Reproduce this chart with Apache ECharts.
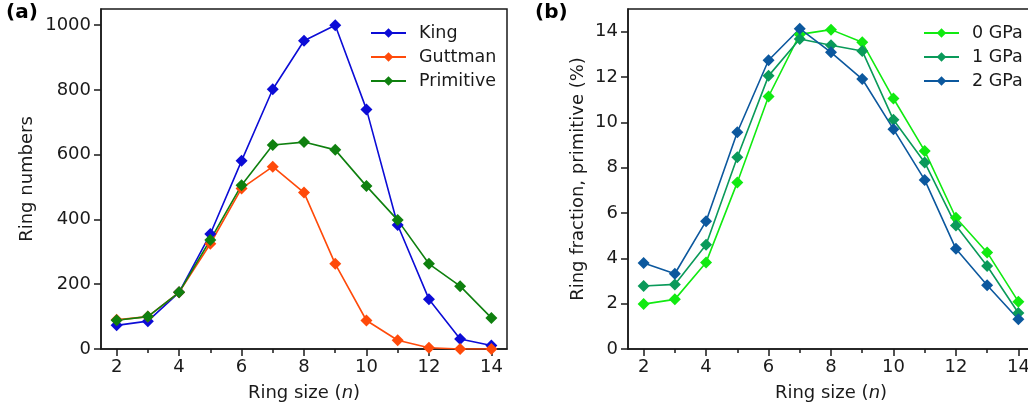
<!DOCTYPE html>
<html>
<head>
<meta charset="utf-8">
<script src="https://cdn.jsdelivr.net/npm/echarts@6/dist/echarts.min.js"></script>
<style>
  html, body { margin: 0; padding: 0; background: #fff; }
  #main { width: 1028px; height: 405px; }
</style>
</head>
<body>
<div id="main"></div>
<script>
// data
var ringSize = [2, 3, 4, 5, 6, 7, 8, 9, 10, 11, 12, 13, 14];

// (a) ring numbers
var king      = [73, 86, 175, 355, 581, 802, 952, 1000, 740, 383, 154, 31, 11];
var guttman   = [90, 100, 175, 325, 496, 563, 483, 263, 88, 27, 4, 0, 0];
var primitive = [89, 100, 175, 337, 506, 630, 639, 615, 503, 398, 263, 194, 96];

// (b) ring fraction, primitive (%)
var gpa0 = [1.98, 2.19, 3.82, 7.35, 11.14, 13.88, 14.09, 13.53, 11.05, 8.74, 5.79, 4.26, 2.09];
var gpa1 = [2.78, 2.85, 4.60, 8.46, 12.05, 13.68, 13.40, 13.15, 10.11, 8.23, 5.45, 3.66, 1.59];
var gpa2 = [3.79, 3.32, 5.64, 9.56, 12.74, 14.13, 13.09, 11.91, 9.70, 7.46, 4.42, 2.81, 1.31];

var xMajor = [2, 4, 6, 8, 10, 12, 14];
var xMinor = [3, 5, 7, 9, 11, 13];
var yTicksA = [0, 200, 400, 600, 800, 1000];
var yTicksB = [0, 2, 4, 6, 8, 10, 12, 14];

var FONT = 'DejaVu Sans';
var FS = 18;
var INK = '#1a1a1a';
var MINOR_LEN = 4;

function pairs(ys) {
    return ringSize.map(function (x, i) { return [x, ys[i]]; });
}

function line(name, ys, color, xi, yi) {
    return {
        name: name,
        type: 'line',
        xAxisIndex: xi,
        yAxisIndex: yi,
        data: pairs(ys),
        symbol: 'diamond',
        symbolSize: 12,
        lineStyle: { color: color, width: 1.6 },
        itemStyle: { color: color },
        animation: false
    };
}

// major x axis (labels, long ticks)
function xMain(gi) {
    return {
        type: 'value', gridIndex: gi, min: 1.5, max: 14.5, position: 'bottom',
        name: '{n|Ring size (}{i|n}{n|)}',
        nameLocation: 'middle', nameGap: 35,
        nameTextStyle: {
            rich: {
                n: { fontFamily: FONT, fontSize: FS, color: INK },
                i: { fontFamily: FONT, fontSize: FS, color: INK, fontStyle: 'italic' }
            }
        },
        axisLine: { lineStyle: { color: INK, width: 1.5 } },
        axisTick: { customValues: xMajor, length: 7, lineStyle: { color: INK, width: 1.5 } },
        axisLabel: { customValues: xMajor, margin: 9, fontFamily: FONT, fontSize: FS, color: INK },
        splitLine: { show: false }
    };
}

// minor x ticks at odd ring sizes: top axis of a thin overlay grid that sits
// just under the plot, its ticks reach up to the bottom frame line
function xMinorAxis(gi) {
    return {
        type: 'value', gridIndex: gi, min: 1.5, max: 14.5, position: 'top',
        axisLine: { show: false, onZero: false },
        axisTick: { customValues: xMinor, length: MINOR_LEN, lineStyle: { color: INK, width: 1.5 } },
        axisLabel: { show: false },
        splitLine: { show: false }
    };
}

function yAxis(gi, max, ticks, name, gap) {
    return {
        type: 'value', gridIndex: gi, min: 0, max: max,
        name: name, nameLocation: 'middle', nameGap: gap,
        nameTextStyle: { fontFamily: FONT, fontSize: FS, color: INK },
        axisLine: { show: true, lineStyle: { color: INK, width: 1.5 } },
        axisTick: { show: true, customValues: ticks, length: 7, lineStyle: { color: INK, width: 1.5 } },
        axisLabel: {
            customValues: ticks, margin: 10, fontFamily: FONT, fontSize: FS, color: INK,
            formatter: function (v) { return String(v); }
        },
        splitLine: { show: false }
    };
}

function legend(left, names) {
    return {
        data: names,
        orient: 'vertical',
        left: left, top: 24, padding: 0,
        itemWidth: 35, itemHeight: 12, itemGap: 6,
        textStyle: { fontFamily: FONT, fontSize: 17.5, color: INK, padding: [0, 0, 0, 8] }
    };
}

var frame = { show: true, borderColor: INK, borderWidth: 1.5, outerBoundsMode: 'none' };
var tickTop = 405 - 56 + MINOR_LEN;

var chart = echarts.init(document.getElementById('main'));

var option = {
    backgroundColor: '#fff',
    animation: false,
    title: [
        { text: '(a)', left: 6, top: 3, padding: 0, textStyle: { fontFamily: FONT, fontSize: 20, fontWeight: 'bold', color: '#000' } },
        { text: '(b)', left: 535, top: 3, padding: 0, textStyle: { fontFamily: FONT, fontSize: 20, fontWeight: 'bold', color: '#000' } }
    ],
    grid: [
        Object.assign({ left: 101, top: 9, right: 521, bottom: 56 }, frame),
        Object.assign({ left: 628, top: 9, right: -6, bottom: 56 }, frame),
        { left: 101, top: tickTop, right: 521, height: 10, outerBoundsMode: 'none' },
        { left: 628, top: tickTop, right: -6, height: 10, outerBoundsMode: 'none' }
    ],
    legend: [
        legend(370, ['King', 'Guttman', 'Primitive']),
        legend(923, ['0 GPa', '1 GPa', '2 GPa'])
    ],
    xAxis: [xMain(0), xMain(1), xMinorAxis(2), xMinorAxis(3)],
    yAxis: [
        yAxis(0, 1050, yTicksA, 'Ring numbers', 65),
        yAxis(1, 15, yTicksB, 'Ring fraction, primitive (%)', 41),
        { type: 'value', gridIndex: 2, min: 0, max: 1, show: false },
        { type: 'value', gridIndex: 3, min: 0, max: 1, show: false }
    ],
    series: [
        line('King', king, '#0c0cd6', 0, 0),
        line('Guttman', guttman, '#ff4a0a', 0, 0),
        line('Primitive', primitive, '#0f800f', 0, 0),
        line('0 GPa', gpa0, '#11ea11', 1, 1),
        line('1 GPa', gpa1, '#0a9a5a', 1, 1),
        line('2 GPa', gpa2, '#0c589e', 1, 1)
    ]
};

chart.setOption(option);
</script>
</body>
</html>
